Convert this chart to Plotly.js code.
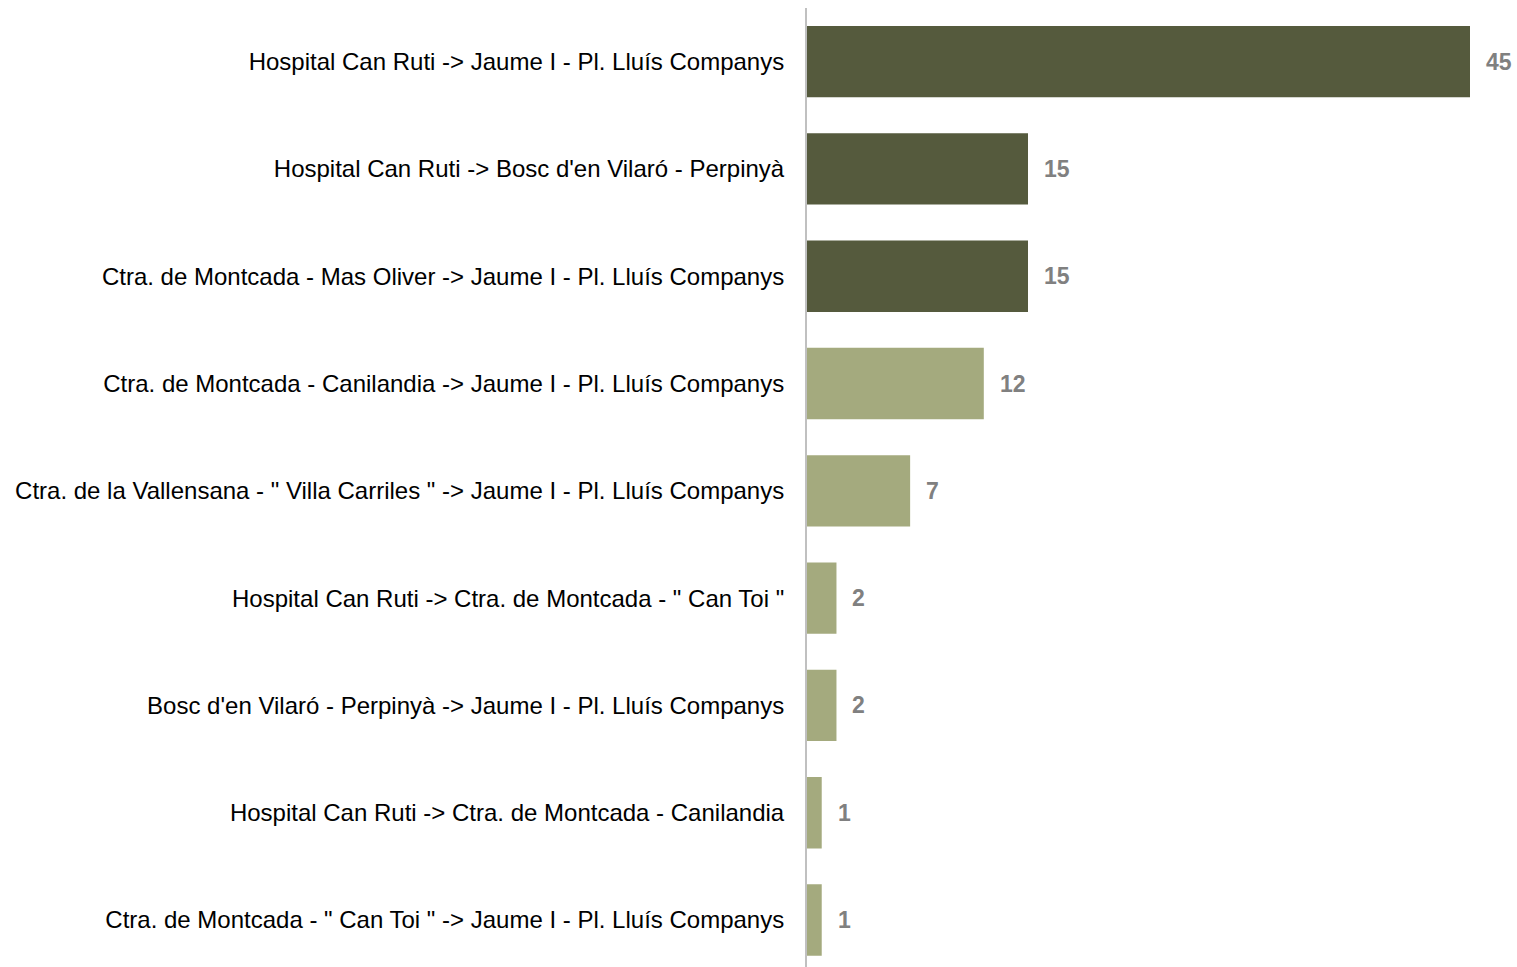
<!DOCTYPE html>
<html>
<head>
<meta charset="utf-8">
<script src="https://cdn.plot.ly/plotly-3.0.1.min.js"></script>
<style>html,body{margin:0;padding:0;background:#fff;}#chart{width:1517px;height:967px;}</style>
</head>
<body>
<div id="chart"></div>
<script>
const categories = [
  "Hospital Can Ruti -> Jaume I - Pl. Lluís Companys",
  "Hospital Can Ruti -> Bosc d'en Vilaró - Perpinyà",
  "Ctra. de Montcada - Mas Oliver -> Jaume I - Pl. Lluís Companys",
  "Ctra. de Montcada - Canilandia -> Jaume I - Pl. Lluís Companys",
  "Ctra. de la Vallensana - \" Villa Carriles \" -> Jaume I - Pl. Lluís Companys",
  "Hospital Can Ruti -> Ctra. de Montcada - \" Can Toi \"",
  "Bosc d'en Vilaró - Perpinyà -> Jaume I - Pl. Lluís Companys",
  "Hospital Can Ruti -> Ctra. de Montcada - Canilandia",
  "Ctra. de Montcada - \" Can Toi \" -> Jaume I - Pl. Lluís Companys"
];
const values = [45, 15, 15, 12, 7, 2, 2, 1, 1];
const darkColor = "#555a3d";
const lightColor = "#a4aa7e";
const barColors = values.map((v, i) => i < 3 ? darkColor : lightColor);

const trace = {
  type: "bar",
  orientation: "h",
  x: values,
  y: categories,
  marker: {color: barColors, line: {width: 0}},
  hoverinfo: "none"
};

const annotations = values.map((v, i) => ({
  x: v, y: categories[i], xref: "x", yref: "y",
  text: "<b>" + v + "</b>", showarrow: false,
  xanchor: "left", yanchor: "middle", xshift: 14,
  font: {family: "Liberation Sans, Arial, sans-serif", size: 23, color: "#808080"}
}));

const layout = {
  width: 1517, height: 967,
  margin: {l: 807, r: 0, t: 8, b: 0},
  paper_bgcolor: "#fff", plot_bgcolor: "#fff",
  bargap: 0.335,
  showlegend: false,
  font: {family: "Liberation Sans, Arial, sans-serif", size: 24, color: "#000"},
  xaxis: {range: [0, 48.19], showgrid: false, zeroline: false, showticklabels: false, showline: false, fixedrange: true},
  yaxis: {
    type: "category", range: [8.438, -0.5], autorange: false,
    showgrid: false, zeroline: false, showline: true, linecolor: "#c0c0c0", linewidth: 2,
    ticks: "", ticklabelstandoff: 16, automargin: false,
    tickfont: {family: "Liberation Sans, Arial, sans-serif", size: 24, color: "#000"}
  },
  annotations: annotations
};

Plotly.newPlot("chart", [trace], layout, {displayModeBar: false, staticPlot: true});
</script>
</body>
</html>
